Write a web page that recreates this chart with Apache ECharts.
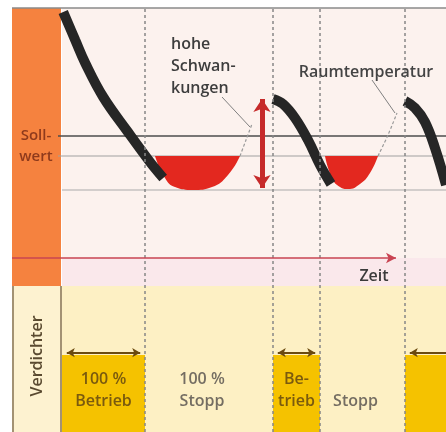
<!DOCTYPE html>
<html><head><meta charset="utf-8">
<script src="https://cdn.jsdelivr.net/npm/echarts@6/dist/echarts.min.js"></script>
<style>html,body{margin:0;padding:0;background:#fff}#c{width:446px;height:432px}</style>
</head><body><div id="c"></div>
<script>
// ---- data (time units on x, temperature units on y) ----
const switchTimes = [20.75, 52.75, 64.5, 85.75];
const sollwert = 12.2;
const lowerBand = 10.2;
const minTemp = 6.8;
const zeitEnd = 83.5;
const fall1 = [[0.3,24.6],[3.3,21.8],[5.8,19.5],[10.3,16.1],[16.3,12.7],[22,9.6],[25.3,8.0]];
const fall2 = [[52.75,15.9],[55.25,15.4],[58.25,14.0],[61.5,11.8],[64.5,9.3],[67.25,7.4]];
const fall3 = [[85.75,15.7],[88.25,15.0],[90.75,13.6],[93.25,11.0],[96,7.3]];
const bowl1 = [[23.25,10.2],[25.75,8.0],[28.25,7.1],[32.75,6.8],[37.5,7.1],[41.5,8.3],[44.5,10.2]];
const bowl2 = [[65.75,10.2],[67.5,8.0],[69.5,7.1],[71.5,6.9],[74.5,7.4],[77,8.5],[79,10.2]];
const rise1 = [[44.5,10.2],[46,11.8],[47.5,13.4]];
const rise2 = [[79,10.2],[81.5,12.3],[83.75,14.5]];
const swing = [50, 15.9, 7.0];           // x, top, bottom of "hohe Schwankungen" arrow
const pointer1 = [[40,16.1],[47,13.1]];
const pointer2 = [[77.5,17.8],[83.25,14.5]];
const phaseStart = [0, 20.75, 52.75, 64.5, 85.75];
const phaseEnd   = [20.75, 52.75, 64.5, 85.75, 96];
const phaseOn    = [1, 0, 1, 0, 1];
const phaseLabels = ['100 %\nBetrieb', '100 %\nStopp', 'Be-\ntrieb', 'Stopp', ''];
const axisMax = 96;

const FONT = '600 16px "Open Sans"';
const chart = echarts.init(document.getElementById('c'));

const phaseData = phaseStart.map((s,i)=>[s, phaseEnd[i], phaseOn[i]]);
const arrowLines = [];
phaseData.forEach(d=>{
  if(!d[2]) return;
  const last = d[1] >= axisMax;
  arrowLines.push([
    {coord:[d[0]+1.2, 1.03], symbol:'arrow'},
    {coord:[last ? d[1] : d[1]-1.2, 1.03], symbol: last ? 'none' : 'arrow'}
  ]);
});

const option = {
  animation: false,
  grid: [
    {left: 12, right: 0, top: 8, height: 250},
    {left: 12, right: 0, top: 258, height: 174}
  ],
  xAxis: [
    {type:'value', gridIndex:0, min:-12.5, max:axisMax, show:false},
    {type:'value', gridIndex:1, min:-12.5, max:axisMax, show:false}
  ],
  yAxis: [
    {type:'value', gridIndex:0, min:0, max:25, show:false},
    {type:'value', gridIndex:1, min:0, max:2.26, show:false}
  ],
  graphic: [
    {type:'rect', z:0, shape:{x:62,y:8,width:384,height:250}, style:{fill:'#fcf2ee'}},
    {type:'rect', z:0, shape:{x:62,y:258,width:384,height:28}, style:{fill:'#fae8eb'}},
    {type:'rect', z:0, shape:{x:62,y:286,width:384,height:146}, style:{fill:'#fdf0c4'}},
    {type:'rect', z:0, shape:{x:12,y:8,width:49,height:278}, style:{fill:'#f5823f'}},
    {type:'rect', z:0, shape:{x:12,y:286,width:49,height:146}, style:{fill:'#fdf2d0'}},
    {type:'line', z:1, shape:{x1:13,y1:286,x2:13,y2:432}, style:{stroke:'#a39273', lineWidth:2}},
    {type:'line', z:1, shape:{x1:61,y1:286,x2:61,y2:432}, style:{stroke:'#a39273', lineWidth:2}},
    {type:'line', z:1, shape:{x1:12,y1:8,x2:446,y2:8}, style:{stroke:'#8a8a8a', lineWidth:1.5}},
    {type:'text', z:20, style:{text:'Soll-\nwert', x:36, y:146, align:'center', verticalAlign:'middle', font:'600 15px "Open Sans"', fill:'#8e3a1c', lineHeight:21}},
    {type:'text', z:20, style:{text:'hohe\nSchwan-\nkungen', x:171, y:33, align:'left', verticalAlign:'top', font:FONT, fill:'#3d3d3d', lineHeight:22}},
    {type:'text', z:20, style:{text:'Raumtemperatur', x:366, y:72, align:'center', verticalAlign:'middle', font:FONT, fill:'#444'}},
    {type:'text', z:20, style:{text:'Zeit', x:374, y:276, align:'center', verticalAlign:'middle', font:FONT, fill:'#3a3a3a'}},
    {type:'text', z:20, rotation:Math.PI/2, x:37, y:356, style:{text:'Verdichter', x:0, y:0, align:'center', verticalAlign:'middle', font:FONT, fill:'#5a4a30'}}
  ],
  series: [
    // reference lines
    {type:'line', xAxisIndex:0, yAxisIndex:0, z:1, symbol:'none', data:[[-1,sollwert],[axisMax,sollwert]],
     lineStyle:{color:'#4d4d4d', width:1.5},
     markLine:{silent:true, symbol:'none', label:{show:false},
       lineStyle:{color:'#878787', width:1.5, type:[3,3]},
       data: switchTimes.map(t=>({xAxis:t}))}},
    {type:'line', xAxisIndex:0, yAxisIndex:0, z:1, symbol:'none', data:[[-1,lowerBand],[axisMax,lowerBand]],
     lineStyle:{color:'#a0a0a0', width:1}},
    {type:'line', xAxisIndex:0, yAxisIndex:0, z:1, symbol:'none', data:[[0,minTemp],[axisMax,minTemp]],
     lineStyle:{color:'#aaaaaa', width:1}},
    // red fluctuation zones
    {type:'line', xAxisIndex:0, yAxisIndex:0, z:2, symbol:'none', smooth:0.5, data:bowl1,
     lineStyle:{width:0}, areaStyle:{color:'#e3281f', opacity:1, origin:lowerBand}},
    {type:'line', xAxisIndex:0, yAxisIndex:0, z:2, symbol:'none', smooth:0.5, data:bowl2,
     lineStyle:{width:0}, areaStyle:{color:'#e3281f', opacity:1, origin:lowerBand}},
    // rising (thin)
    {type:'line', xAxisIndex:0, yAxisIndex:0, z:2, symbol:'none', smooth:0.3, data:rise1,
     lineStyle:{color:'#9a9a9a', width:1.2, type:[3,2]}},
    {type:'line', xAxisIndex:0, yAxisIndex:0, z:2, symbol:'none', smooth:0.3, data:rise2,
     lineStyle:{color:'#9a9a9a', width:1.2, type:[3,2]}},
    // falling (thick black)
    {type:'line', xAxisIndex:0, yAxisIndex:0, z:3, symbol:'none', smooth:0.4, data:fall1,
     lineStyle:{color:'#262626', width:10}},
    {type:'line', xAxisIndex:0, yAxisIndex:0, z:3, symbol:'none', smooth:0.4, data:fall2,
     lineStyle:{color:'#262626', width:10}},
    {type:'line', xAxisIndex:0, yAxisIndex:0, z:3, symbol:'none', smooth:0.4, data:fall3,
     lineStyle:{color:'#262626', width:10}},
    // annotations
    {type:'line', xAxisIndex:0, yAxisIndex:0, z:6, data:[],
     markLine:{silent:true, label:{show:false}, animation:false,
       data:[
         [{coord:[-12.5,0], symbol:'none', lineStyle:{color:'#c94452', width:1.5, type:'solid'}},
          {coord:[zeitEnd,0], symbol:'arrow', symbolSize:[8,10], lineStyle:{color:'#c94452', width:1.5, type:'solid'}}],
         [{coord:[swing[0],swing[1]], symbol:'arrow', symbolSize:[13,13], lineStyle:{color:'#c62a2a', width:5, type:'solid'}},
          {coord:[swing[0],swing[2]], symbol:'arrow', symbolSize:[13,13], lineStyle:{color:'#c62a2a', width:5, type:'solid'}}],
         [{coord:pointer1[0], symbol:'none', lineStyle:{color:'#808080', width:1, type:'solid'}},
          {coord:pointer1[1], symbol:'none', lineStyle:{color:'#808080', width:1, type:'solid'}}],
         [{coord:pointer2[0], symbol:'none', lineStyle:{color:'#808080', width:1, type:'solid'}},
          {coord:pointer2[1], symbol:'none', lineStyle:{color:'#808080', width:1, type:'solid'}}]
       ]}},
    // compressor phases
    {type:'custom', xAxisIndex:1, yAxisIndex:1, z:2, data:phaseData,
     renderItem:function(params, api){
       const s = api.value(0), e = api.value(1), on = api.value(2);
       const p0 = api.coord([s,1]), p1 = api.coord([e,0]);
       const ch = [];
       if(on) ch.push({type:'rect', shape:{x:p0[0], y:p0[1], width:p1[0]-p0[0], height:p1[1]-p0[1]}, style:{fill:'#f5c200'}});
       const cx = (p0[0]+p1[0])/2 + (on?0:-7);
       const ty = api.coord([s,0.25])[1];
       ch.push({type:'text', style:{text:phaseLabels[params.dataIndex], x:cx, y:ty, align:'center', verticalAlign:'bottom',
         font:FONT, fill:on?'#7a5a0e':'#746d62', lineHeight:22}});
       return {type:'group', children:ch};
     }},
    {type:'line', xAxisIndex:1, yAxisIndex:1, z:5, data:[],
     markLine:{silent:true, label:{show:false},
       symbolSize:[7,8],
       lineStyle:{color:'#6b4a10', width:2, type:'solid'},
       data: arrowLines}},
    {type:'line', xAxisIndex:1, yAxisIndex:1, z:5, data:[],
     markLine:{silent:true, symbol:'none', label:{show:false},
       lineStyle:{color:'#878787', width:1.5, type:[3,3]},
       data: switchTimes.map(t=>({xAxis:t}))}}
  ]
};
chart.setOption(option);
</script></body></html>
